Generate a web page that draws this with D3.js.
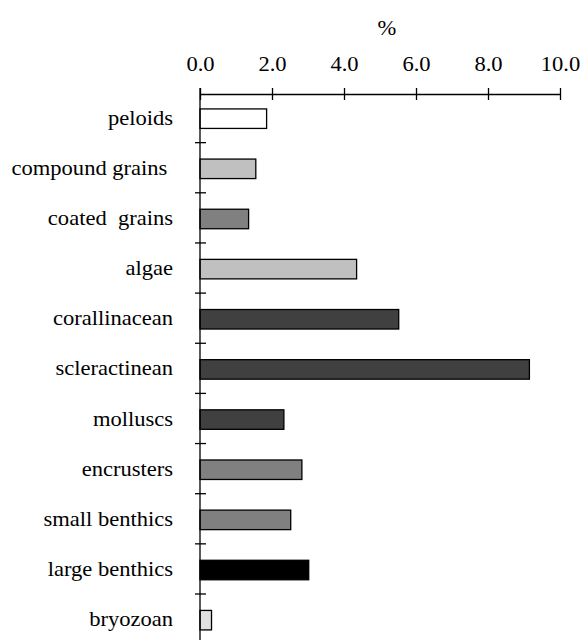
<!DOCTYPE html>
<html><head><meta charset="utf-8">
<script src="https://cdn.jsdelivr.net/npm/d3@7"></script>
<style>body{margin:0;background:#fff}svg{display:block}text{font-family:"Liberation Serif","Times New Roman",serif;fill:#000}</style>
</head><body><svg id="c" width="586" height="640"></svg>
<script>
const categories = ["peloids","compound grains ","coated  grains","algae","corallinacean","scleractinean","molluscs","encrusters","small benthics","large benthics","bryozoan"];
const values = [1.85,1.55,1.35,4.35,5.52,9.15,2.33,2.83,2.52,3.02,0.32];
const colors = ["#ffffff","#c0c0c0","#808080","#c0c0c0","#404040","#404040","#404040","#808080","#808080","#000000","#e0e0e0"];
const xTicks = [0,2,4,6,8,10];
const axisTitle = "%";

const svg = d3.select("#c");
const x = d3.scaleLinear().domain([0,10]).range([200,560]);
const step = 50.15, y0 = 92.5;
const y = d3.scaleBand().domain(categories).range([y0, y0 + categories.length*step]).paddingInner(0).paddingOuter(0);
const axisY = 94;
const fs = 20.5, sx = 1.1;

// bars
const barH = 19.5;
const cy = d => y(d) + y.bandwidth()/2 + 1.1;
svg.selectAll("rect.bar").data(categories).join("rect")
  .attr("x", x(0))
  .attr("y", d => cy(d) - barH/2)
  .attr("width", (d,i) => x(values[i]) - x(0))
  .attr("height", barH)
  .attr("fill", (d,i) => colors[i])
  .attr("stroke", "#000").attr("stroke-width", 1.3);

// top axis
const gx = svg.append("g").attr("transform", `translate(0,${axisY})`)
  .call(d3.axisTop(x).tickValues(xTicks).tickSize(6).tickSizeOuter(0).tickFormat(d3.format(".1f")));
gx.select(".domain").attr("stroke","#000").attr("stroke-width",1.3);
gx.selectAll(".tick line").attr("stroke","#000").attr("stroke-width",1.3).attr("y1",6).attr("y2",-6);
gx.selectAll(".tick text").attr("y",null).attr("dy",null)
  .attr("transform",`translate(0,-23) scale(${sx},1)`)
  .style("font-size",fs+"px").style("font-family","Liberation Serif");

// left axis line
svg.append("line").attr("x1",x(0)).attr("x2",x(0)).attr("y1",axisY-6).attr("y2",640)
  .attr("stroke","#000").attr("stroke-width",1.3);
// category boundary ticks
const bounds = categories.slice(1).map(d => y(d));
svg.selectAll("line.ct").data(bounds).join("line")
  .attr("x1", x(0)-5).attr("x2", x(0)+6).attr("y1", d=>d).attr("y2", d=>d)
  .attr("stroke","#000").attr("stroke-width",1.3);

// category labels
svg.selectAll("text.cat").data(categories).join("text")
  .attr("transform", d => `translate(173,${cy(d)+6}) scale(${sx},1)`)
  .attr("text-anchor","end").style("font-size",fs+"px").style("white-space","pre")
  .attr("xml:space","preserve")
  .text(d => d);

svg.append("text").attr("transform",`translate(387,35) scale(${sx},1)`).attr("text-anchor","middle").style("font-size",fs+"px").text(axisTitle);
</script></body></html>
